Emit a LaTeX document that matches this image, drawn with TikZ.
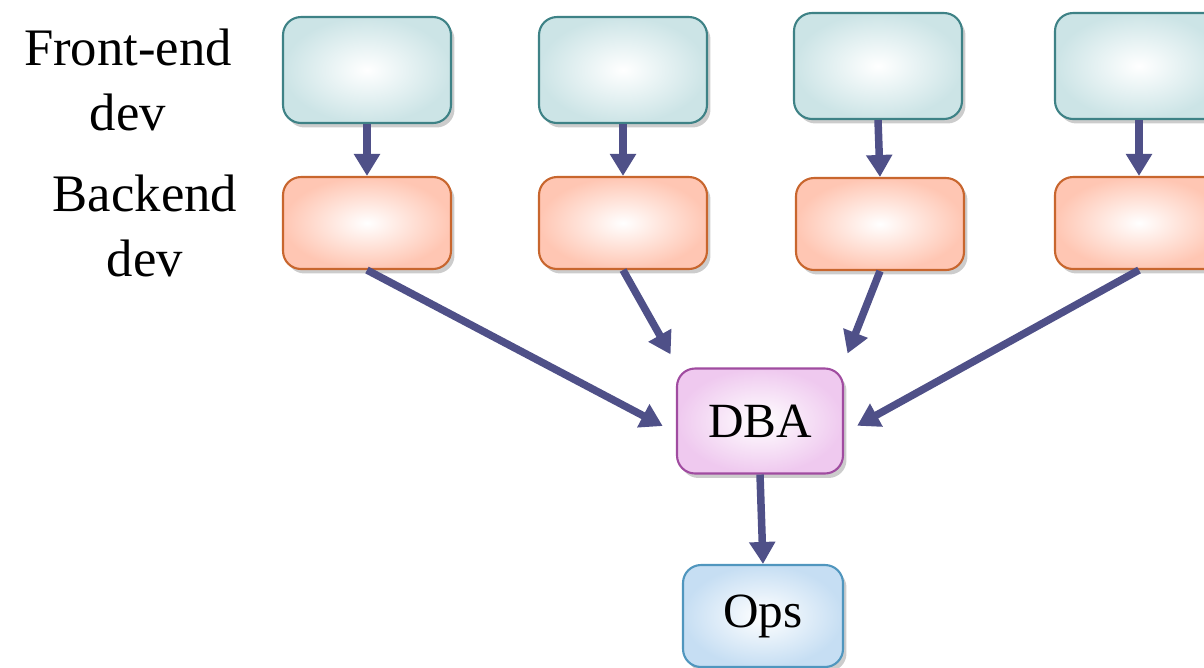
\documentclass[tikz,border=0pt]{standalone}
\usepackage{fontspec}
\setmainfont{Liberation Serif}
\usetikzlibrary{arrows.meta,shadows}

\definecolor{arrowcol}{HTML}{4F5088}
\definecolor{frontline}{HTML}{3E8286}
\definecolor{frontfill}{HTML}{CCE4E6}
\definecolor{backline}{HTML}{C8662E}
\definecolor{backfill}{HTML}{FFC6B3}
\definecolor{dbaline}{HTML}{A04CA0}
\definecolor{dbafill}{HTML}{EFC9EF}
\definecolor{opsline}{HTML}{5096BE}
\definecolor{opsfill}{HTML}{C6DEF3}

\begin{document}
\begin{tikzpicture}[x=0.02cm, y=-0.02cm]
		\tikzset{box/.style={rectangle, rounded corners=0.36cm, line width=1.2pt, inner color=white,
				drop shadow={opacity=0.4, shadow xshift=0.07cm, shadow yshift=-0.09cm},
				font=\fontsize{28}{34}\selectfont}};
		\tikzset{frontbox/.style={box, draw=frontline, outer color=frontfill, minimum width=3.36cm, minimum height=2.12cm}};
		\tikzset{backbox/.style={box, draw=backline, outer color=backfill, minimum width=3.36cm, minimum height=1.84cm}};
		\tikzset{lbl/.style={align=center, font=\fontsize{30}{37}\selectfont}};
		\tikzset{arr/.style={draw=arrowcol, line width=0.15cm, -{Triangle[width=0.5cm, length=0.44cm]}}};

		\useasboundingbox (0, 0) rectangle (1204, 667);
		\clip (0, 0) rectangle (1204, 667);

		\node[lbl] (front) at (128, 80) {Front-end\\dev};
		\node[lbl] (back) at (145, 226) {Backend\\dev};

		\node[frontbox] (f1) at (367, 70) {};
		\node[frontbox] (f2) at (623, 70) {};
		\node[frontbox] (f3) at (878, 66) {};
		\node[frontbox] (f4) at (1139, 66) {};

		\node[backbox] (b1) at (367, 223) {};
		\node[backbox] (b2) at (623, 223) {};
		\node[backbox] (b3) at (880, 224) {};
		\node[backbox] (b4) at (1139, 223) {};

		\node[box, draw=dbaline, outer color=dbafill, minimum width=3.32cm, minimum height=2.1cm] (dba) at (760, 421) {DBA};
		\node[box, draw=opsline, outer color=opsfill, minimum width=3.2cm, minimum height=2.04cm] (ops) at (763, 616) {Ops};

		\draw[arr] (f1.south) to (b1.north);
		\draw[arr] (f2.south) to (b2.north);
		\draw[arr] (f3.south) to (b3.north);
		\draw[arr] (f4.south) to (b4.north);

		\draw[arr, shorten >=0.3cm] (b1.south) to ([yshift=-0.24cm]dba.west);
		\draw[arr, shorten >=0.3cm] (b2.south) to ([xshift=0.04cm]dba.north west);
		\draw[arr, shorten >=0.3cm] (b3.south) to ([xshift=-0.04cm]dba.north east);
		\draw[arr, shorten >=0.3cm] (b4.south) to ([yshift=-0.24cm]dba.east);

		\draw[arr] (dba.south) to (ops.north);
	\end{tikzpicture}
\end{document}
